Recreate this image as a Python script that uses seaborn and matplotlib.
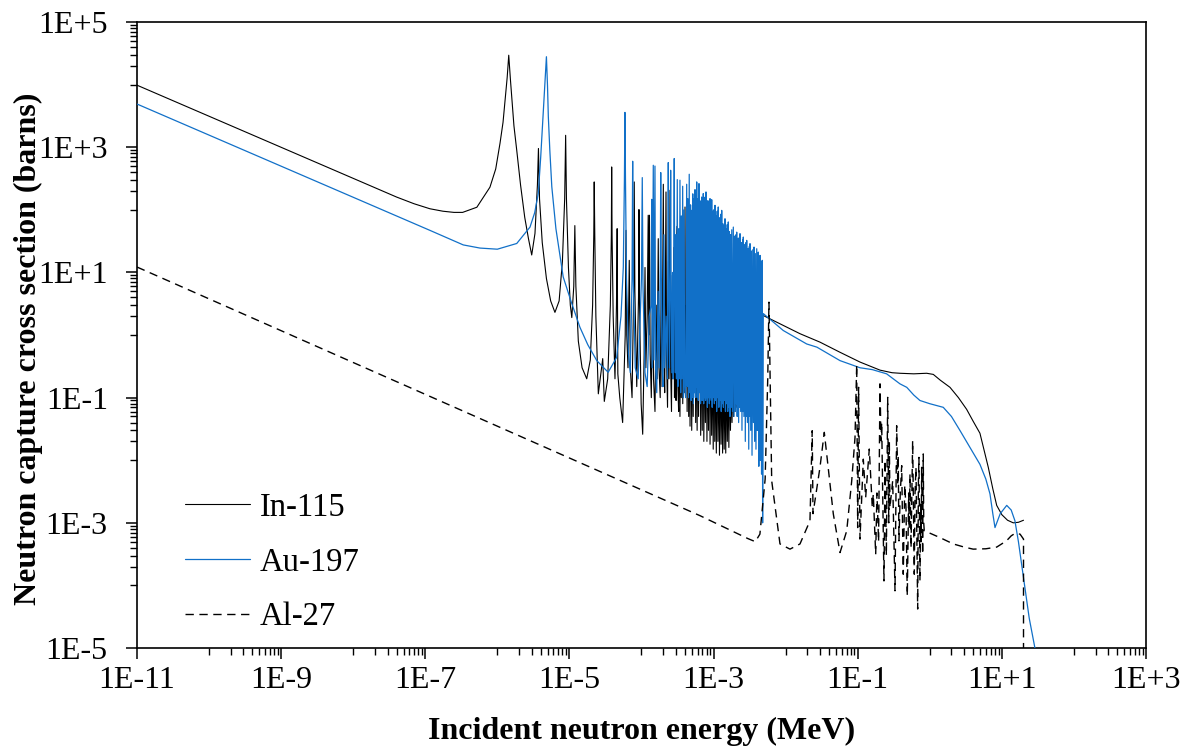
import numpy as np
import pandas as pd
import matplotlib
matplotlib.use("Agg")
import matplotlib.pyplot as plt
import seaborn as sns
from matplotlib.ticker import FixedLocator, FuncFormatter, NullFormatter

# ---------------- data: (incident energy in eV, capture cross section in barns) ----------------
in115_thermal = [(1e-5, 9800), (0.040, 160), (0.07, 125), (0.116, 104), (0.176, 95), (0.25, 91), (0.33, 91),
                 (0.52, 110), (0.79, 230), (0.95, 450), (1.09, 1160), (1.2, 2500), (1.28, 5600), (1.37, 13000),
                 (1.44, 29500), (1.52, 12000), (1.6, 5600), (1.7, 2200), (1.86, 890), (2.1, 250),
                 (2.4, 76), (2.7, 35), (3.0, 19), (3.33, 42), (3.6, 250), (3.72, 955), (3.85, 150), (4.2, 30),
                 (4.8, 8), (5.5, 3.5), (6.3, 2.3), (7.2, 3.5), (8.0, 15), (8.6, 150), (8.87, 1550),
                 (9.1, 150), (9.7, 12), (10.3, 3), (10.8, 1.9), (11.5, 6), (11.9, 56), (12.3, 6),
                 (13.3, 0.8), (15, 0.3), (17.4, 0.2), (19.5, 0.4), (21, 3), (21.8, 40), (22.1, 279),
                 (22.5, 40), (23.3, 2), (25.2, 0.115), (28, 0.3), (29, 0.42), (29.7, 0.2), (30.5, 0.087),
                 (34, 0.2), (37, 3), (38.2, 40), (38.6, 484), (39.1, 40), (40.5, 2), (42.9, 0.2),
                 (45, 3), (46, 50), (47, 0.24), (50, 0.1), (54.8, 0.04)]
in115_resolved = [(59.5, 1.0), (61, 47), (62.5, 1.0), (65, 0.3), (67.7, 15.6), (70, 0.3), (74, 0.1),
                  (78, 5), (79.4, 279), (81, 5), (86, 0.15), (91, 4), (92.3, 101), (94, 3), (99, 0.08),
                  (104, 0.026), (109, 0.5), (112, 12), (115, 0.3), (120, 2), (124, 82), (126, 1),
                  (129, 82), (132, 0.5), (137, 0.1), (143, 6), (147, 0.2), (154, 0.06), (160, 3),
                  (165, 0.2), (171, 34.6), (175, 0.3), (182, 0.1), (188, 8), (193, 0.15), (201, 256),
                  (205, 0.5), (210, 0.12), (219, 193), (223, 0.4), (230, 0.07), (237, 15), (241, 0.2),
                  (249, 205), (254, 0.3), (261, 0.06), (268, 9), (273, 0.2), (281, 25), (287, 0.1),
                  (296, 4), (302, 0.09), (308, 30), (314, 55), (320, 0.15), (328, 0.06), (335, 12),
                  (342, 0.05), (350, 6), (357, 0.1), (366, 30), (374, 0.08), (383, 8), (392, 0.12),
                  (402, 111), (410, 0.15), (420, 3), (430, 0.06), (442, 13.6), (452, 0.05), (462, 5),
                  (472, 0.035), (484, 8), (498, 0.03), (510, 2), (522, 0.05), (535, 10), (553, 47),
                  (565, 0.04), (578, 4), (592, 0.03), (606, 7), (620, 0.05), (635, 1.5), (649, 20)]
in115_dense = [(663, 0.025), (680, 2), (697, 0.03), (715, 5), (733, 0.02), (752, 1), (771, 0.04),
               (790, 3), (810, 0.02), (830, 0.8), (851, 0.03), (873, 4), (895, 0.018), (918, 1.5),
               (941, 0.025), (965, 0.6), (990, 0.015), (1015, 2), (1040, 0.02), (1066, 0.5),
               (1093, 0.013), (1121, 1.2), (1150, 0.02), (1179, 0.4), (1209, 0.012), (1240, 0.9),
               (1271, 0.018), (1303, 0.3), (1336, 0.013), (1370, 0.6), (1405, 0.015), (1440, 0.25),
               (1477, 0.013), (1514, 0.5), (1553, 0.02), (1592, 0.2), (1632, 0.016), (1674, 0.4),
               (1716, 0.03), (1760, 0.15), (1805, 0.04), (1850, 0.3), (1897, 0.05), (1945, 0.2),
               (1995, 0.06), (2045, 0.25), (2100, 0.07), (2150, 0.3), (2210, 0.08), (2270, 0.2),
               (2330, 0.1)]
in115_fast = [(2400, 3.2), (4898, 2.05), (9290, 1.42), (15830, 1.05), (29980, 0.77), (56890, 0.53),
              (1.077e5, 0.37), (2.04e5, 0.275), (3.0e5, 0.25), (3.86e5, 0.245), (6.0e5, 0.24),
              (9.06e5, 0.245), (1.12e6, 0.235), (1.4e6, 0.19), (1.91e6, 0.146), (2.5e6, 0.1),
              (3.25e6, 0.065), (4.0e6, 0.042), (4.97e6, 0.027), (5.8e6, 0.013), (6.49e6, 0.0077),
              (7.5e6, 0.0035), (8.49e6, 1.9e-3), (1.0e7, 1.35e-3), (1.2e7, 1.1e-3), (1.44e7, 1.0e-3),
              (1.7e7, 1.02e-3), (2.0e7, 1.1e-3)]

au197_thermal = [(1e-5, 4900), (0.116, 47), (0.337, 27.5), (0.574, 24.5), (1.0, 23.5), (1.86, 29),
                 (2.84, 53), (3.3, 90), (3.7, 183), (4.0, 700), (4.3, 3100), (4.55, 9500), (4.8, 27900),
                 (4.97, 9500), (5.1, 3100), (5.35, 900), (5.7, 234), (6.5, 50), (8.2, 8.5), (10.5, 3.5),
                 (14, 1.33), (18, 0.7), (24, 0.39), (34.5, 0.254), (45.3, 0.44), (52, 2.0), (56, 12.2),
                 (58, 300), (59, 3600), (60, 300), (62, 8), (66, 0.5)]
au197_resolved = [(70, 0.25), (74, 8), (75.5, 597), (77, 8), (82, 0.3), (90, 0.2), (100, 8), (102.6, 327),
                  (105, 6), (112, 0.25), (120, 0.15), (128, 2), (136, 3), (138.6, 147), (141, 0.3),
                  (145.9, 515), (149, 0.4), (153.9, 500), (157, 0.3), (163, 0.12), (170, 5), (176, 0.3),
                  (183, 20), (185, 394), (188, 15), (193, 0.3), (199, 0.15), (205, 40), (210, 0.3),
                  (220, 2), (229, 0.2), (233, 20), (235.6, 569), (239, 10), (245, 0.3), (251, 20),
                  (254, 428), (258, 5), (264, 0.25), (270, 10), (276, 0.2), (282, 30), (285, 660),
                  (289, 8), (295, 0.25), (300, 40), (306, 0.2), (314, 304), (320, 0.15), (328, 50),
                  (335, 0.2), (342, 297), (350, 0.12), (357, 80), (365, 0.2), (373, 238), (381, 0.1),
                  (390, 100), (398, 0.15), (410, 0.1), (424, 256), (432, 0.15), (440, 150), (450, 0.1),
                  (460, 370), (470, 0.12), (480, 120), (488, 0.09), (497, 98), (505, 0.1), (515, 180),
                  (525, 0.08), (538, 150), (545, 0.12), (553, 210), (560, 0.1), (568, 100), (575, 0.15),
                  (584, 279), (593, 0.1), (605, 150), (615, 0.09), (628, 262), (640, 0.12), (650, 120),
                  (660, 0.08), (672, 140), (678, 0.1), (685, 160), (695, 0.09), (705, 110), (712, 0.12),
                  (721, 182), (730, 0.08), (742, 130), (752, 0.1), (764, 160), (775, 0.09), (786, 193),
                  (798, 0.1), (810, 120), (822, 0.07), (835, 140), (848, 0.1), (860, 110), (875, 0.08),
                  (893, 151), (905, 0.1), (917, 110), (930, 0.09), (943, 145), (958, 0.07), (975, 95),
                  (990, 0.1), (1010, 100), (1028, 0.08), (1047, 118), (1065, 0.09), (1085, 80),
                  (1105, 0.06), (1125, 95), (1145, 0.1), (1164, 111), (1185, 0.07), (1210, 75),
                  (1235, 0.09), (1260, 85), (1280, 0.06), (1298, 98), (1320, 0.08), (1345, 60),
                  (1370, 0.07), (1395, 55), (1420, 0.09), (1442, 72), (1465, 0.06), (1490, 50),
                  (1520, 0.08), (1550, 58), (1575, 0.06), (1603, 64), (1630, 0.07), (1660, 45),
                  (1690, 0.05), (1720, 40), (1750, 0.07), (1790, 48), (1830, 0.06), (1881, 53),
                  (1920, 0.05), (1960, 38), (2000, 0.06), (2050, 40), (2075, 0.08), (2095, 44),
                  (2130, 0.05), (2180, 35), (2230, 0.04), (2280, 36), (2305, 0.07), (2330, 41.6),
                  (2380, 0.06), (2430, 30), (2480, 0.03), (2535, 33), (2560, 0.06), (2590, 36.7),
                  (2640, 0.05), (2700, 28), (2760, 0.02), (2820, 30), (2850, 0.05), (2885, 32.5),
                  (2950, 0.04), (3010, 24), (3080, 0.015), (3140, 26), (3170, 0.05), (3208, 28.8),
                  (3280, 0.03), (3350, 22), (3420, 0.012), (3500, 23), (3580, 0.04), (3644, 25.4),
                  (3720, 0.02), (3800, 20), (3880, 0.015), (3974, 23.9), (4050, 0.03), (4100, 18),
                  (4140, 0.05), (4180, 21.1), (4250, 0.008), (4330, 17), (4370, 0.03), (4416, 18.7),
                  (4480, 0.01), (4560, 15), (4640, 0.006), (4700, 14), (4748, 15.6), (4800, 0.001)]
au197_fast = [(4900, 2.2), (9290, 1.18), (19600, 0.72), (27200, 0.64), (56890, 0.39), (1.077e5, 0.30),
              (1.6e5, 0.28), (2.52e5, 0.24), (3.86e5, 0.166), (4.8e5, 0.146), (6.0e5, 0.11), (7.31e5, 0.09),
              (1.0e6, 0.08), (1.54e6, 0.07), (2.0e6, 0.05), (2.62e6, 0.03), (3.5e6, 0.017), (4.97e6, 0.0086),
              (6.0e6, 0.005), (6.85e6, 0.0029), (7.5e6, 0.0014), (8.04e6, 8.4e-4), (9.5e6, 1.4e-3),
              (1.17e7, 1.9e-3), (1.35e7, 1.6e-3), (1.52e7, 1.08e-3), (1.7e7, 5e-4), (1.99e7, 1.4e-4),
              (2.4e7, 3e-5), (2.88e7, 1e-5), (3.2e7, 5e-6)]

al27_low = [(1e-5, 12.2), (650, 1.3e-3), (3000, 5.6e-4), (3800, 5.0e-4), (4400, 6.6e-4), (5200, 5e-3),
            (5650, 0.2), (5875, 3.35), (6100, 0.2), (6412, 4.7e-3), (8356, 4.6e-4), (11500, 3.8e-4),
            (15830, 4.6e-4), (21780, 1.08e-3), (23400, 0.0296), (24000, 1.4e-3), (29980, 7.7e-3),
            (34420, 0.0279), (45900, 1.39e-3), (56890, 3.35e-4), (70470, 7.45e-4), (82670, 4.7e-3),
            (91850, 0.0232)]
al27_resolved = [(96900, 0.337), (1.0e5, 8.4e-4), (1.03e5, 0.146), (1.077e5, 5.5e-4), (1.197e5, 0.0104),
                 (1.291e5, 2.54e-3), (1.449e5, 0.0151), (1.595e5, 1.76e-3), (1.647e5, 2.88e-3),
                 (1.778e5, 3.15e-4), (1.85e5, 0.003), (1.95e5, 5e-4), (2.04e5, 0.166), (2.106e5, 0.0205),
                 (2.153e5, 0.040), (2.316e5, 1.18e-4), (2.4e5, 0.01), (2.5e5, 3e-4), (2.607e5, 0.101),
                 (2.7e5, 1e-3), (2.75e5, 0.02), (2.806e5, 1.76e-3), (3.06e5, 4.7e-3), (3.295e5, 8.2e-5),
                 (3.475e5, 0.0356), (3.6e5, 0.004), (3.65e5, 0.012), (3.74e5, 5.15e-4), (3.9e5, 0.003),
                 (4.08e5, 8.2e-3), (4.29e5, 1.51e-4), (4.5e5, 0.004), (4.68e5, 1.76e-3), (4.88e5, 6.8e-5),
                 (5.1e5, 0.003), (5.2e5, 8e-4), (5.32e5, 0.006), (5.5e5, 4.0e-4), (5.79e5, 0.0205),
                 (6.10e5, 1.51e-4), (6.25e5, 0.003), (6.44e5, 7.7e-3), (6.6e5, 8e-4), (6.80e5, 4.2e-5),
                 (6.95e5, 0.004), (7.08e5, 0.0111), (7.31e5, 1.18e-4), (7.5e5, 0.002), (7.6e5, 5e-4),
                 (7.72e5, 7.7e-3), (7.97e5, 3.15e-4), (8.13e5, 0.0126), (8.25e5, 1e-3), (8.39e5, 7.45e-4)]
al27_fast = [(8.59e5, 7.4e-4), (1.39e6, 5.8e-4), (2.12e6, 4.6e-4), (3.0e6, 4.1e-4), (4.0e6, 3.8e-4),
             (6.0e6, 3.85e-4), (8.5e6, 4.1e-4), (1.16e7, 5.15e-4), (1.35e7, 6.2e-4), (1.53e7, 6.8e-4),
             (1.79e7, 6.6e-4), (2.0e7, 5.5e-4), (2.0e7, 1e-6)]

series_names = ["In-115", "Au-197", "Al-27"]
x_tick_exponents = [-11, -9, -7, -5, -3, -1, 1, 3]
y_tick_exponents = [-5, -3, -1, 1, 3, 5]


def to_frame(name, *segments):
    pts = [p for seg in segments for p in seg]
    return pd.DataFrame({"energy_MeV": [p[0] * 1e-6 for p in pts],
                         "sigma": [p[1] for p in pts],
                         "nuclide": name})


df_in = to_frame(series_names[0], in115_thermal, in115_resolved, in115_dense, in115_fast)
df_au = to_frame(series_names[1], au197_thermal, au197_resolved, au197_fast)
df_al = to_frame(series_names[2], al27_low, al27_resolved, al27_fast)

sns.set_style("ticks")
plt.rcParams["font.family"] = ["Liberation Serif", "DejaVu Serif"]
for key in ["text.color", "axes.labelcolor", "xtick.color", "ytick.color", "axes.edgecolor"]:
    plt.rcParams[key] = "black"

fig = plt.figure(figsize=(11.89, 7.49), dpi=100)
ax = fig.add_axes([0.1152, 0.1348, 0.8486, 0.8358])

sns.lineplot(data=df_in, x="energy_MeV", y="sigma", estimator=None, sort=False, ax=ax,
             color="black", lw=0.8, label=series_names[0], zorder=2)
sns.lineplot(data=df_au, x="energy_MeV", y="sigma", estimator=None, sort=False, ax=ax,
             color="#1170C8", lw=0.9, label=series_names[1], zorder=3)
sns.lineplot(data=df_al, x="energy_MeV", y="sigma", estimator=None, sort=False, ax=ax,
             color="black", lw=1.0, linestyle=(0, (6, 4)), label=series_names[2], zorder=4)

ax.set_xscale("log")
ax.set_yscale("log")
ax.set_xlim(10.0 ** x_tick_exponents[0], 10.0 ** x_tick_exponents[-1])
ax.set_ylim(10.0 ** y_tick_exponents[0], 10.0 ** y_tick_exponents[-1])

xmaj = [10.0 ** k for k in x_tick_exponents]
xmin = [m * 10.0 ** (k + 1) for k in x_tick_exponents[:-1] for m in range(1, 10)]
ymaj = [10.0 ** k for k in y_tick_exponents]
ymin = [m * 10.0 ** (k + 1) for k in y_tick_exponents[:-1] for m in range(1, 10)]
ax.xaxis.set_major_locator(FixedLocator(xmaj))
ax.xaxis.set_minor_locator(FixedLocator(xmin))
ax.yaxis.set_major_locator(FixedLocator(ymaj))
ax.yaxis.set_minor_locator(FixedLocator(ymin))
fmt = FuncFormatter(lambda v, pos: "1E{:+d}".format(int(round(np.log10(v)))))
ax.xaxis.set_major_formatter(fmt)
ax.yaxis.set_major_formatter(fmt)
ax.xaxis.set_minor_formatter(NullFormatter())
ax.yaxis.set_minor_formatter(NullFormatter())

ax.tick_params(which="major", direction="out", length=8, width=1.1, labelsize=23, colors="black")
ax.tick_params(which="minor", direction="out", length=5, width=1.0, colors="black")
ax.tick_params(axis="x", which="major", pad=5)
ax.tick_params(axis="y", which="major", pad=13)
for s in ax.spines.values():
    s.set_linewidth(1.2)
    s.set_color("black")

ax.set_xlabel("Incident neutron energy (MeV)", fontsize=23, fontweight="bold", color="black")
ax.set_ylabel("Neutron capture cross section (barns)", fontsize=23, fontweight="bold", color="black")
ax.xaxis.set_label_coords(0.5, -0.11)
ax.yaxis.set_label_coords(-0.093, 0.478)

leg = ax.legend(loc="center left", bbox_to_anchor=(0.0476, 0.137), frameon=False, fontsize=23.5,
                handlelength=2.0, handletextpad=0.3, labelspacing=0.74, borderpad=0, borderaxespad=0)
for t in leg.get_texts():
    t.set_color("black")

fig.savefig("out.png", dpi=100)
